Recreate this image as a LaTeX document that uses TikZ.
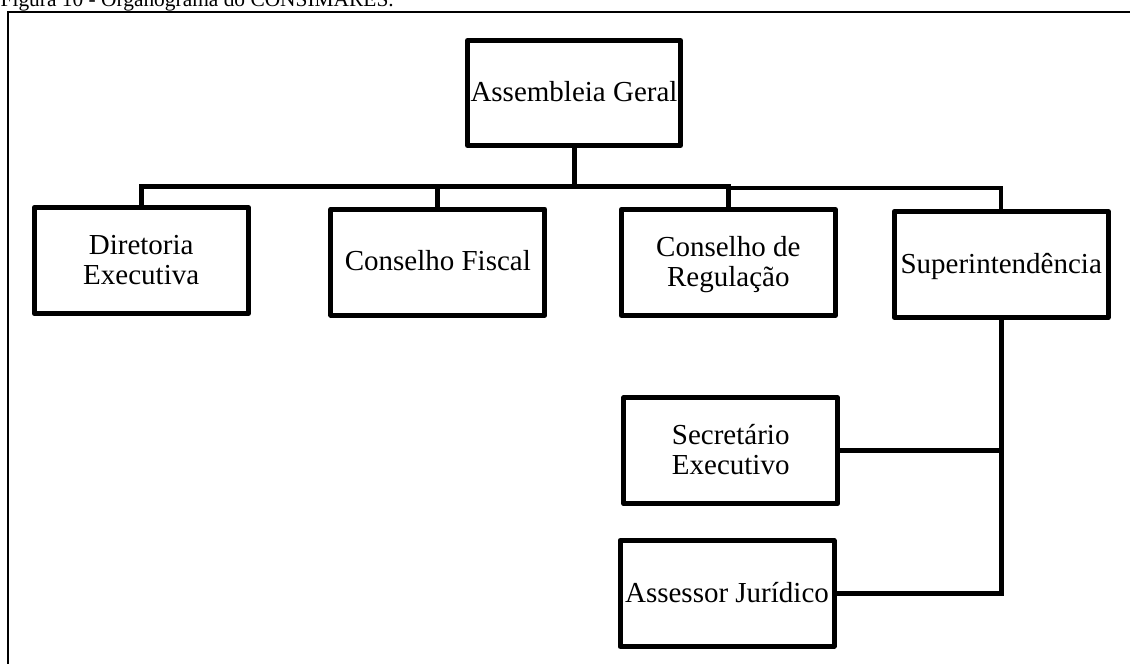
\documentclass[tikz,border=0pt]{standalone}
\usepackage{fontspec}
\setmainfont{Liberation Serif}
\newcommand\one[1]{\raisebox{0pt}[17.4pt][0pt]{#1}}
\newcommand\two[2]{\raisebox{0pt}[47.4pt][0pt]{\begin{tabular}[b]{@{}c@{}}#1\\#2\end{tabular}}}
\begin{document}
\begin{tikzpicture}[x=1pt,y=-1pt,
  box/.style={draw,line width=5pt,rectangle,minimum width=214pt,minimum height=106pt,
    inner sep=0pt,font=\fontsize{29pt}{30pt}\selectfont,line join=round},
  conn/.style={line width=5pt},
  thinconn/.style={line width=4pt},
  frameline/.style={line width=2.3pt}]
\useasboundingbox (0,0) rectangle (1130,664);
\clip (0,0) rectangle (1130,664);
% frame (only top and left visible)
\draw[frameline] (8,700) -- (8,12) -- (1200,12);
% caption
\node[anchor=base west,inner sep=0pt,font=\fontsize{21.4pt}{24pt}\selectfont] (cap) at (0.5,6.5) {Figura 10 - Organograma do CONSIMARES.};
% boxes
\node[box,minimum width=213pt,minimum height=105pt] (ag) at (574,93) {\one{Assembleia Geral}};
\node[box] (dir) at (141.2,260.5) {\two{Diretoria}{Executiva}};
\node[box] (fis) at (437.8,262.2) {\one{Conselho Fiscal}};
\node[box] (reg) at (728.3,262.5) {\two{Conselho de}{Regulação}};
\node[box] (sup) at (1001.2,264.4) {\one{Superintendência}};
\node[box] (sec) at (730.7,450.8) {\two{Secretário}{Executivo}};
\node[box] (ass) at (727,593.3) {\one{Assessor Jurídico}};
% connectors
\coordinate (bus) at (573,186);
\coordinate (bus2) at (728.3,188);
\draw[conn] (ag.south) -- (ag.south |- bus);
\draw[conn] (dir.north) |- (bus) -| (reg.north);
\draw[conn] (fis.north) -- (fis.north |- bus);
\draw[thinconn] (bus2) -| (sup.north);
\draw[conn] (sup.south) |- (ass.east);
\draw[conn] (sec.east) -- (sec.east -| sup.south);
\end{tikzpicture}
\end{document}
